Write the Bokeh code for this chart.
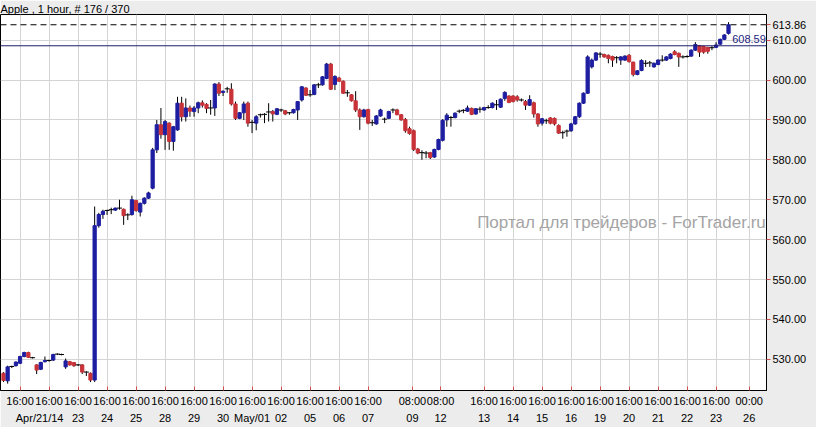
import numpy as np
from bokeh.plotting import figure
from bokeh.models import (ColumnDataSource, Range1d, LinearAxis, FixedTicker, Grid,
                          Span, Label, NumeralTickFormatter)
from bokeh.embed import file_html
from bokeh.resources import INLINE

# ---- data (hourly candles, Apple) ----
opens = [526.5, 524.6, 528.1, 528.4, 529.0, 530.7, 531.7, 530.4, 528.6, 527.5,
         529.4, 529.6, 529.8, 531.3, 531.2, 528.1, 529.4, 529.2, 528.6, 528.6,
         526.8, 526.5, 524.8, 563.5, 566.3, 567.2, 567.4, 567.4, 567.9, 567.6,
         566.2, 566.3, 569.8, 566.9, 569.1, 570.4, 572.9, 582.5, 588.8, 586.3,
         589.2, 584.6, 587.5, 594.2, 590.8, 593.0, 592.1, 593.0, 594.3, 593.9,
         593.0, 593.0, 599.0, 596.9, 597.8, 597.7, 594.0, 590.4, 591.8, 594.2,
         589.4, 589.2, 591.3, 591.4, 591.9, 592.1, 591.4, 592.5, 592.3, 591.8,
         591.8, 592.5, 595.0, 598.0, 596.3, 596.4, 598.8, 598.8, 600.4, 604.0,
         598.9, 600.5, 599.7, 596.8, 596.3, 594.8, 592.5, 590.8, 592.6, 589.3,
         589.0, 591.0, 590.2, 590.4, 592.5, 592.5, 591.3, 590.1, 587.8, 587.3,
         582.7, 581.8, 581.7, 581.8, 580.7, 582.6, 584.9, 590.0, 590.6, 590.6,
         592.2, 592.4, 592.2, 592.9, 591.5, 592.7, 592.5, 593.1, 593.1, 593.8,
         593.2, 595.4, 596.0, 596.0, 595.8, 595.0, 594.6, 593.7, 594.3, 591.5,
         589.2, 589.8, 590.5, 590.4, 588.6, 586.8, 587.2, 587.3, 589.0, 590.8,
         594.2, 596.7, 603.3, 605.0, 606.5, 606.4, 606.2, 605.9, 605.6, 605.0,
         605.0, 606.2, 604.5, 601.4, 602.4, 604.2, 604.3, 603.3, 603.9, 605.0,
         605.0, 605.4, 607.1, 606.7, 605.8, 605.9, 606.0, 607.5, 608.6, 608.4,
         608.2, 608.1, 608.2, 609.0, 610.2, 611.7]
highs = [526.8, 528.4, 528.4, 529.5, 530.9, 531.9, 531.9, 530.6, 528.8, 529.4,
         530.7, 529.9, 531.4, 531.5, 531.4, 530.2, 529.6, 529.3, 528.8, 528.8,
         527.0, 526.7, 568.3, 566.7, 567.5, 567.5, 568.0, 568.0, 570.0, 567.8,
         566.6, 571.0, 570.0, 569.3, 570.6, 572.0, 583.0, 590.0, 593.0, 590.0,
         589.4, 588.5, 595.8, 595.8, 595.4, 593.6, 593.5, 594.6, 594.9, 594.2,
         595.0, 599.2, 599.5, 597.4, 598.3, 599.2, 594.6, 592.0, 594.6, 594.6,
         590.0, 591.2, 591.6, 591.7, 594.2, 592.5, 593.0, 592.8, 592.5, 592.0,
         592.8, 594.6, 598.5, 598.2, 597.5, 599.0, 599.3, 601.0, 604.3, 604.3,
         601.2, 600.8, 599.9, 597.5, 596.5, 597.2, 592.9, 592.8, 592.8, 590.0,
         591.2, 592.8, 590.6, 592.3, 592.9, 592.8, 591.5, 590.5, 588.3, 587.6,
         583.0, 582.4, 582.2, 582.0, 582.8, 585.3, 590.2, 591.7, 591.0, 591.9,
         592.6, 592.7, 593.6, 593.1, 593.0, 593.3, 593.3, 593.7, 594.4, 595.0,
         595.4, 597.2, 596.2, 596.2, 596.2, 595.4, 595.0, 596.2, 594.6, 591.7,
         590.5, 590.3, 590.7, 590.6, 588.9, 587.3, 587.6, 589.3, 591.0, 594.4,
         596.9, 606.2, 605.4, 607.0, 607.0, 606.6, 606.4, 606.1, 606.0, 606.0,
         606.2, 606.5, 604.6, 602.5, 605.2, 605.0, 604.8, 604.4, 605.2, 606.2,
         606.0, 606.7, 607.5, 606.9, 606.2, 606.2, 607.7, 609.5, 608.8, 608.6,
         608.3, 608.5, 609.5, 610.4, 611.5, 614.5]
lows = [524.3, 523.9, 527.8, 528.2, 528.8, 530.5, 530.3, 530.2, 526.3, 527.3,
        529.2, 529.4, 529.6, 531.1, 531.0, 527.6, 528.4, 528.1, 528.3, 526.3,
        525.8, 524.3, 524.3, 563.0, 565.2, 566.2, 566.4, 567.2, 567.5, 563.7,
        564.9, 566.0, 567.0, 565.8, 568.8, 570.2, 572.6, 581.7, 585.3, 582.5,
        582.5, 582.3, 587.3, 589.6, 589.6, 590.8, 590.8, 591.7, 593.1, 591.7,
        591.3, 591.0, 596.0, 596.0, 596.8, 593.6, 590.0, 590.2, 590.0, 588.3,
        586.7, 587.4, 590.6, 589.2, 589.6, 589.6, 591.2, 592.0, 591.2, 591.3,
        591.6, 590.0, 594.6, 596.0, 595.8, 596.2, 598.0, 598.6, 600.2, 597.5,
        597.5, 599.5, 596.5, 595.8, 594.6, 592.0, 587.5, 590.6, 588.9, 588.5,
        588.8, 590.8, 589.2, 590.2, 591.7, 591.2, 589.8, 586.8, 586.3, 582.2,
        581.4, 580.0, 580.4, 580.2, 580.5, 582.4, 584.6, 588.3, 588.3, 590.4,
        591.7, 591.7, 592.0, 591.2, 591.3, 591.8, 592.3, 592.8, 592.9, 592.5,
        593.0, 594.8, 594.2, 594.4, 594.6, 594.6, 592.5, 593.5, 590.6, 588.3,
        588.6, 589.0, 588.9, 588.6, 586.5, 585.3, 585.8, 587.0, 588.8, 590.5,
        594.0, 596.5, 602.9, 604.8, 605.6, 605.6, 604.2, 603.3, 604.2, 603.8,
        604.8, 604.4, 600.9, 601.2, 602.2, 603.3, 603.3, 603.1, 603.7, 604.6,
        604.8, 605.2, 606.2, 603.3, 605.4, 605.6, 605.8, 607.3, 605.8, 606.6,
        606.6, 607.5, 608.0, 608.8, 610.0, 611.4]
closes = [524.7, 528.1, 528.2, 529.3, 530.7, 531.7, 530.5, 530.4, 527.3, 529.2,
          529.7, 529.7, 531.2, 531.3, 531.2, 529.6, 528.6, 528.4, 528.6, 526.8,
          526.8, 524.8, 563.5, 566.3, 567.1, 567.3, 567.5, 567.9, 567.9, 566.0,
          566.2, 570.0, 567.3, 569.1, 570.4, 571.7, 582.5, 588.8, 586.3, 589.6,
          584.6, 588.3, 594.2, 590.8, 593.0, 592.2, 593.0, 594.3, 593.7, 592.9,
          593.0, 599.0, 596.7, 597.2, 597.8, 594.0, 590.4, 591.8, 594.0, 589.2,
          589.4, 590.8, 591.3, 591.4, 592.0, 591.5, 592.8, 592.5, 591.5, 591.8,
          592.6, 594.6, 598.3, 596.2, 596.3, 598.8, 598.8, 600.8, 604.0, 597.7,
          600.9, 599.7, 596.7, 596.8, 594.8, 592.5, 590.8, 592.5, 589.2, 589.3,
          591.0, 592.5, 590.2, 592.1, 592.5, 591.3, 590.0, 587.3, 586.6, 582.6,
          581.7, 581.8, 581.7, 580.6, 582.6, 585.1, 589.9, 591.2, 590.6, 591.7,
          592.2, 592.4, 593.0, 591.4, 592.8, 592.7, 593.1, 593.1, 594.2, 593.8,
          595.2, 596.9, 594.4, 594.6, 595.0, 595.0, 593.7, 595.1, 591.5, 589.0,
          590.3, 589.8, 589.2, 589.0, 586.7, 586.8, 587.2, 589.0, 590.8, 594.2,
          596.7, 605.8, 605.0, 606.8, 606.5, 605.8, 605.4, 605.0, 605.6, 605.8,
          606.0, 604.6, 601.4, 602.3, 604.9, 604.2, 604.3, 604.2, 605.0, 605.0,
          605.8, 606.5, 606.4, 605.8, 605.8, 605.9, 607.5, 608.9, 607.0, 607.0,
          607.2, 608.1, 608.8, 610.2, 611.3, 613.86]

x_tick_pos = [4, 11, 18, 25, 32, 39, 46, 53, 60, 67, 74, 81, 88, 98.7, 105.5,
              116, 123, 130, 137, 144, 151, 158, 165, 172, 180]
time_labels = ["16:00"] * 13 + ["08:00", "08:00"] + ["16:00"] * 9 + ["00:00"]
date_labels = ["Apr/21/14", "", "23", "24", "25", "28", "29", "30", "May/01", "02",
               "05", "06", "07", "09", "12", "13", "14", "15", "16", "19", "20",
               "21", "22", "23", "26"]
y_ticks = [530, 540, 550, 560, 570, 580, 590, 600, 610]
last_price = 613.86
line_price = 608.59
title_text = "Apple , 1 hour, # 176 / 370"
watermark = "Портал для трейдеров - ForTrader.ru"

FONT = "Liberation Sans"
BLUE = "#1e1ea2"
RED = "#c83238"

o = np.array(opens); h = np.array(highs); l = np.array(lows); c = np.array(closes)
idx = np.arange(len(o))
doji = np.abs(c - o) < 0.15
colors = np.where(c >= o, BLUE, RED)

p = figure(width=816, height=427, output_backend="svg", toolbar_location=None,
           x_range=Range1d(-0.724, 184.17), y_range=Range1d(522.18, 616.43),
           x_axis_location=None, y_axis_location=None,
           min_border_left=0, min_border_right=50, min_border_top=13,
           min_border_bottom=37)
p.title.text = title_text
p.title.text_font = FONT
p.title.text_font_size = "11px"
p.title.text_font_style = "normal"
p.title.text_color = "black"
p.title.align = "left"
p.title.standoff = 0
p.title.offset = 0

p.grid.grid_line_color = None
p.background_fill_color = "white"
p.border_fill_color = "#ececec"
p.outline_line_color = "black"
p.outline_line_width = 1

xt = FixedTicker(ticks=x_tick_pos, minor_ticks=[])
yt = FixedTicker(ticks=y_ticks, minor_ticks=[])
yt_axis = FixedTicker(ticks=y_ticks + [last_price], minor_ticks=[])

p.add_layout(Grid(dimension=0, ticker=xt, grid_line_color="#d4d4d4"))
p.add_layout(Grid(dimension=1, ticker=yt, grid_line_color="#d4d4d4"))

ax1 = LinearAxis(ticker=xt,
                 major_label_overrides={t: s for t, s in zip(x_tick_pos, time_labels)})
ax1.axis_line_color = "black"
ax1.major_tick_in = 4
ax1.major_tick_out = 0
ax1.major_tick_line_color = "#d05050"
ax1.minor_tick_line_color = None
ax1.major_label_standoff = 4
ax1.major_label_text_font = FONT
ax1.major_label_text_font_size = "11px"
ax1.major_label_text_color = "black"
p.add_layout(ax1, "below")

# first date label is shifted right (non-breaking spaces) so it stays inside the canvas
date_over = {}
for i, (t, s) in enumerate(zip(x_tick_pos, date_labels)):
    date_over[t] = ("\u00a0" * 5 + s) if i == 0 else s
ax2 = LinearAxis(ticker=xt, major_label_overrides=date_over)
ax2.axis_line_color = None
ax2.major_tick_line_color = None
ax2.minor_tick_line_color = None
ax2.major_tick_in = 0
ax2.major_tick_out = 0
ax2.major_label_standoff = 2
ax2.major_label_text_font = FONT
ax2.major_label_text_font_size = "11px"
ax2.major_label_text_color = "black"
p.add_layout(ax2, "below")

yax = LinearAxis(ticker=yt_axis, formatter=NumeralTickFormatter(format="0.00"))
yax.axis_line_color = "black"
yax.major_tick_in = 0
yax.major_tick_out = 4
yax.major_tick_line_color = "#d05050"
yax.minor_tick_line_color = None
yax.major_label_standoff = 2
yax.major_label_text_font = FONT
yax.major_label_text_font_size = "11px"
yax.major_label_text_color = "black"
p.add_layout(yax, "right")

# watermark (kept whole inside the plot frame)
p.add_layout(Label(x=184.0, y=564.4, text=watermark, text_font=FONT,
                   text_font_size="17px", text_color="#a4a4a4",
                   text_baseline="middle", text_align="right"))

# candles
wick = ColumnDataSource(dict(x=idx, high=h, low=l))
p.segment(x0="x", y0="low", x1="x", y1="high", source=wick, line_color="black", line_width=1)
nb = ~doji
body = ColumnDataSource(dict(x=idx[nb], top=np.maximum(o, c)[nb],
                             bottom=np.minimum(o, c)[nb], color=colors[nb]))
p.vbar(x="x", width=0.78, top="top", bottom="bottom", source=body,
       fill_color="color", line_color="color", line_width=1)
dj = ColumnDataSource(dict(x0=idx[doji] - 0.6, x1=idx[doji] + 0.6, y=c[doji]))
p.segment(x0="x0", y0="y", x1="x1", y1="y", source=dj, line_color="black", line_width=1)

# price lines
p.add_layout(Span(location=last_price, dimension="width", line_color="black",
                  line_dash="6 4", line_width=1))
p.add_layout(Span(location=line_price, dimension="width", line_color="#1c1c6c",
                  line_width=1))
p.add_layout(Label(x=184.0, y=line_price + 0.6, text=f"{line_price:.2f}",
                   text_font=FONT, text_font_size="11px", text_color="#1c1c80",
                   text_align="right", text_baseline="bottom"))

open("out.html", "w").write(file_html(p, INLINE))
